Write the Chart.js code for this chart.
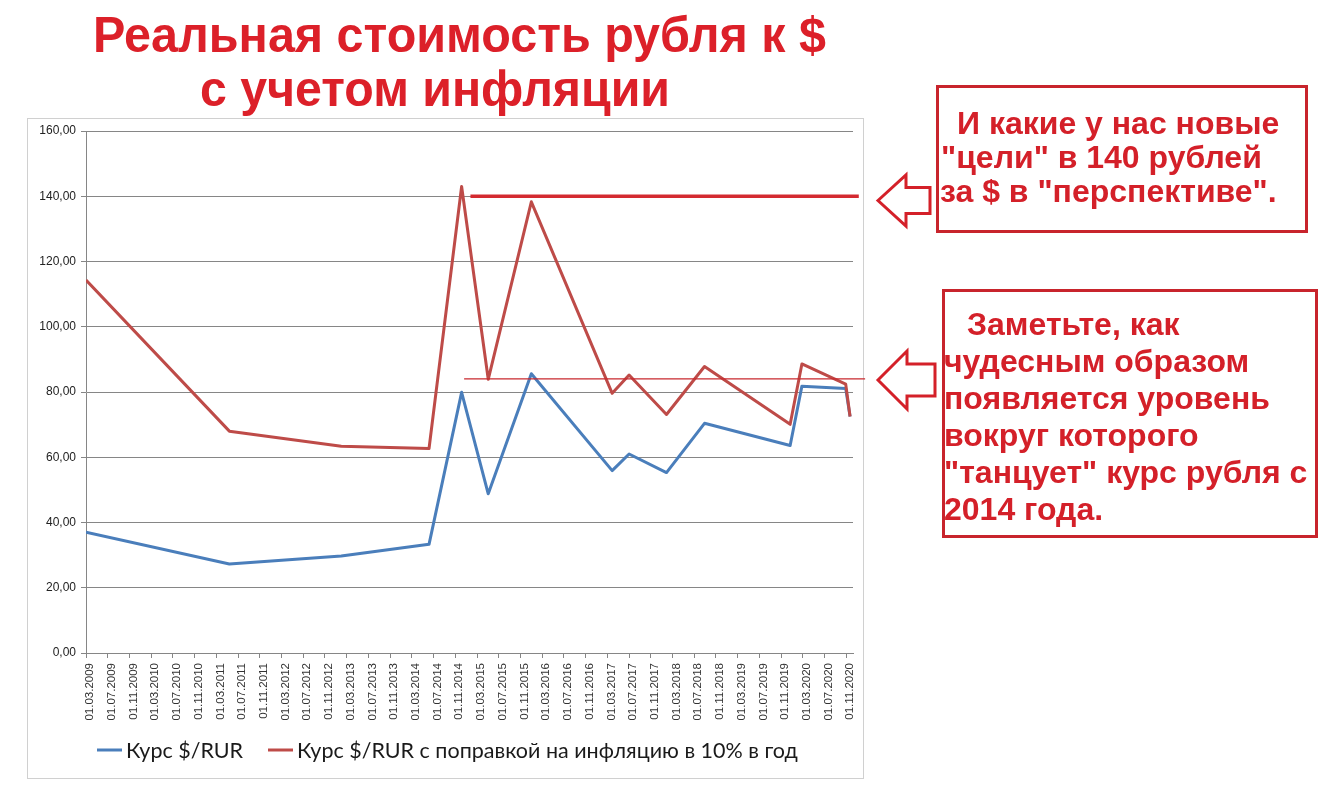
<!DOCTYPE html>
<html><head><meta charset="utf-8">
<script src="https://cdn.jsdelivr.net/npm/chart.js@4.4.0/dist/chart.umd.min.js"></script>
<style>html,body{margin:0;padding:0;background:#fff;} #wrap{width:1330px;height:790px;position:relative;}</style>
</head><body><div id="wrap"><canvas id="c" width="1330" height="790"></canvas></div>
<script>
// ---- data ----
const pointDates = ['2009-03-01','2011-05-13','2013-02-01','2014-06-06','2014-12-06','2015-05-03','2016-01-01','2017-03-28','2017-07-01','2018-01-28','2018-08-28','2019-12-21','2020-02-26','2020-10-28','2020-11-22'];
const rateUSD    = [37.0, 27.3, 29.7, 33.3, 79.9, 48.8, 85.6, 55.9, 61.0, 55.3, 70.4, 63.6, 81.8, 81.1, 72.5];
const rateInfl   = [114.3, 68.0, 63.4, 62.7, 143.0, 83.9, 138.3, 79.6, 85.2, 73.1, 87.8, 70.1, 88.6, 82.4, 72.5];
const xTickLabels = ['01.03.2009','01.07.2009','01.11.2009','01.03.2010','01.07.2010','01.11.2010','01.03.2011','01.07.2011','01.11.2011','01.03.2012','01.07.2012','01.11.2012','01.03.2013','01.07.2013','01.11.2013','01.03.2014','01.07.2014','01.11.2014','01.03.2015','01.07.2015','01.11.2015','01.03.2016','01.07.2016','01.11.2016','01.03.2017','01.07.2017','01.11.2017','01.03.2018','01.07.2018','01.11.2018','01.03.2019','01.07.2019','01.11.2019','01.03.2020','01.07.2020','01.11.2020'];
const yTickLabels = ['0,00','20,00','40,00','60,00','80,00','100,00','120,00','140,00','160,00'];
const yTickValues = [0,20,40,60,80,100,120,140,160];
const axisRange = ['2009-03-01','2020-12-08'];
const levelValues = [140, 84];
const levelFrom = ['2015-01-25','2014-12-20'];
const levelTo   = ['2021-01-10','2021-02-15'];
const seriesNames = ['Курс $/RUR','Курс $/RUR с поправкой на инфляцию в 10% в год'];
const titleLines = ['Реальная стоимость рубля к $','с учетом инфляции'];
const note1 = ['И какие у нас новые','"цели" в 140 рублей','за $ в "перспективе".'];
const note2 = ['Заметьте, как','чудесным образом','появляется уровень','вокруг которого','"танцует" курс рубля с','2014 года.'];

function monthPos(s){
  let y,m,d;
  if(s.indexOf('.')>=0){ [d,m,y] = s.split('.').map(Number); }
  else { [y,m,d] = s.split('-').map(Number); }
  return (y-2009)*12 + (m-3) + (d-1)/30.44;
}

const BLUE='#4a7ebb', RED='#be4b48', ANN='#d42029', GRID='#868686';

const decor = {
  id:'decor',
  beforeDraw(chart){
    const c=chart.ctx;
    c.save();
    c.fillStyle='#fff'; c.fillRect(0,0,chart.width,chart.height);
    c.strokeStyle='#d0d0d0'; c.lineWidth=1;
    c.strokeRect(27.5,118.5,836,660);
    c.restore();
  },
  afterDatasetsDraw(chart){
    const c=chart.ctx, xs=chart.scales.x, ys=chart.scales.y;
    c.save();
    const widths=[3.5,1.2], cols=['#d42a30','#c8282e'];
    levelValues.forEach((v,i)=>{
      const y=ys.getPixelForValue(v);
      c.strokeStyle=cols[i]; c.lineWidth=widths[i];
      c.beginPath(); c.moveTo(xs.getPixelForValue(monthPos(levelFrom[i])),y);
      c.lineTo(xs.getPixelForValue(monthPos(levelTo[i])),y); c.stroke();
    });
    c.restore();
  },
  afterDraw(chart){
    const c=chart.ctx;
    c.save();
    // title
    c.fillStyle='#dc2029';
    c.font='bold 50px "Liberation Sans", Arial, sans-serif';
    c.textBaseline='alphabetic'; c.textAlign='left';
    c.fillText(titleLines[0],93,52,733);
    c.fillText(titleLines[1],200,106,470);
    // legend
    const lf='21.5px Lato, "Open Sans", sans-serif';
    c.font=lf; c.textBaseline='middle';
    const lx=[97,268], cols=[BLUE,RED];
    seriesNames.forEach((n,i)=>{
      c.strokeStyle=cols[i]; c.lineWidth=3;
      c.beginPath(); c.moveTo(lx[i],750); c.lineTo(lx[i]+25,750); c.stroke();
      c.fillStyle='#1a1a1a'; c.fillText(n,lx[i]+29,751);
    });
    // boxes
    c.strokeStyle='#c8242c'; c.lineWidth=3;
    c.strokeRect(937.5,86.5,369,145);
    c.strokeRect(943.5,290.5,373,246);
    c.fillStyle=ANN; c.font='bold 32px "Liberation Sans", Arial, sans-serif'; c.textBaseline='alphabetic';
    const n1x=[957,941,940], n1y=[134,168,202];
    note1.forEach((t,i)=>c.fillText(t,n1x[i],n1y[i]));
    const n2x=[967,944,944,944,944,944], n2y=[335,372,409,446,483,520];
    note2.forEach((t,i)=>c.fillText(t,n2x[i],n2y[i]));
    // arrows
    function arrow(tipX,tipY,headX,headHalf,shaftHalf,endX){
      c.beginPath();
      c.moveTo(tipX,tipY); c.lineTo(headX,tipY-headHalf); c.lineTo(headX,tipY-shaftHalf);
      c.lineTo(endX,tipY-shaftHalf); c.lineTo(endX,tipY+shaftHalf); c.lineTo(headX,tipY+shaftHalf);
      c.lineTo(headX,tipY+headHalf); c.closePath();
      c.fillStyle='#fff'; c.fill();
      c.strokeStyle='#d42029'; c.lineWidth=3; c.lineJoin='miter'; c.stroke();
    }
    arrow(878,200.5,906,25.5,13,930);
    arrow(878,380,907,29,16,935);
    c.restore();
  }
};

new Chart(document.getElementById('c'),{
  type:'line',
  data:{datasets:[
    {label:seriesNames[0], data:pointDates.map((d,i)=>({x:monthPos(d),y:rateUSD[i]})), borderColor:BLUE, borderWidth:3, pointRadius:0, tension:0, borderJoinStyle:'round', order:2},
    {label:seriesNames[1], data:pointDates.map((d,i)=>({x:monthPos(d),y:rateInfl[i]})), borderColor:RED, borderWidth:3, pointRadius:0, tension:0, borderJoinStyle:'round', order:1}
  ]},
  options:{
    responsive:false, animation:false, devicePixelRatio:1,
    layout:{padding:{left:30,right:477,top:131,bottom:57}},
    plugins:{legend:{display:false}, tooltip:{enabled:false}, title:{display:false}},
    scales:{
      x:{type:'linear', min:monthPos(axisRange[0]), max:monthPos(axisRange[1]),
        afterBuildTicks:s=>{ s.ticks = xTickLabels.map(l=>({value:monthPos(l)})); },
        ticks:{autoSkip:false, minRotation:90, maxRotation:90, padding:5, labelOffset:4, color:'#333',
          font:{family:'"Liberation Sans", Arial, sans-serif', size:11.5},
          callback:(v,i)=>xTickLabels[i]},
        grid:{drawOnChartArea:false, drawTicks:true, tickLength:5, color:GRID},
        border:{color:GRID, width:1},
        afterFit:s=>{ s.height=80; }
      },
      y:{min:0,max:160,
        afterBuildTicks:s=>{ s.ticks = yTickValues.map(v=>({value:v})); },
        ticks:{padding:5, color:'#222', font:{family:'"Liberation Sans", Arial, sans-serif', size:12},
          callback:(v,i)=>yTickLabels[i]},
        grid:{color:GRID, tickLength:5},
        border:{color:GRID, width:1},
        afterFit:s=>{ s.width=56; }
      }
    }
  },
  plugins:[decor]
});
</script></body></html>
